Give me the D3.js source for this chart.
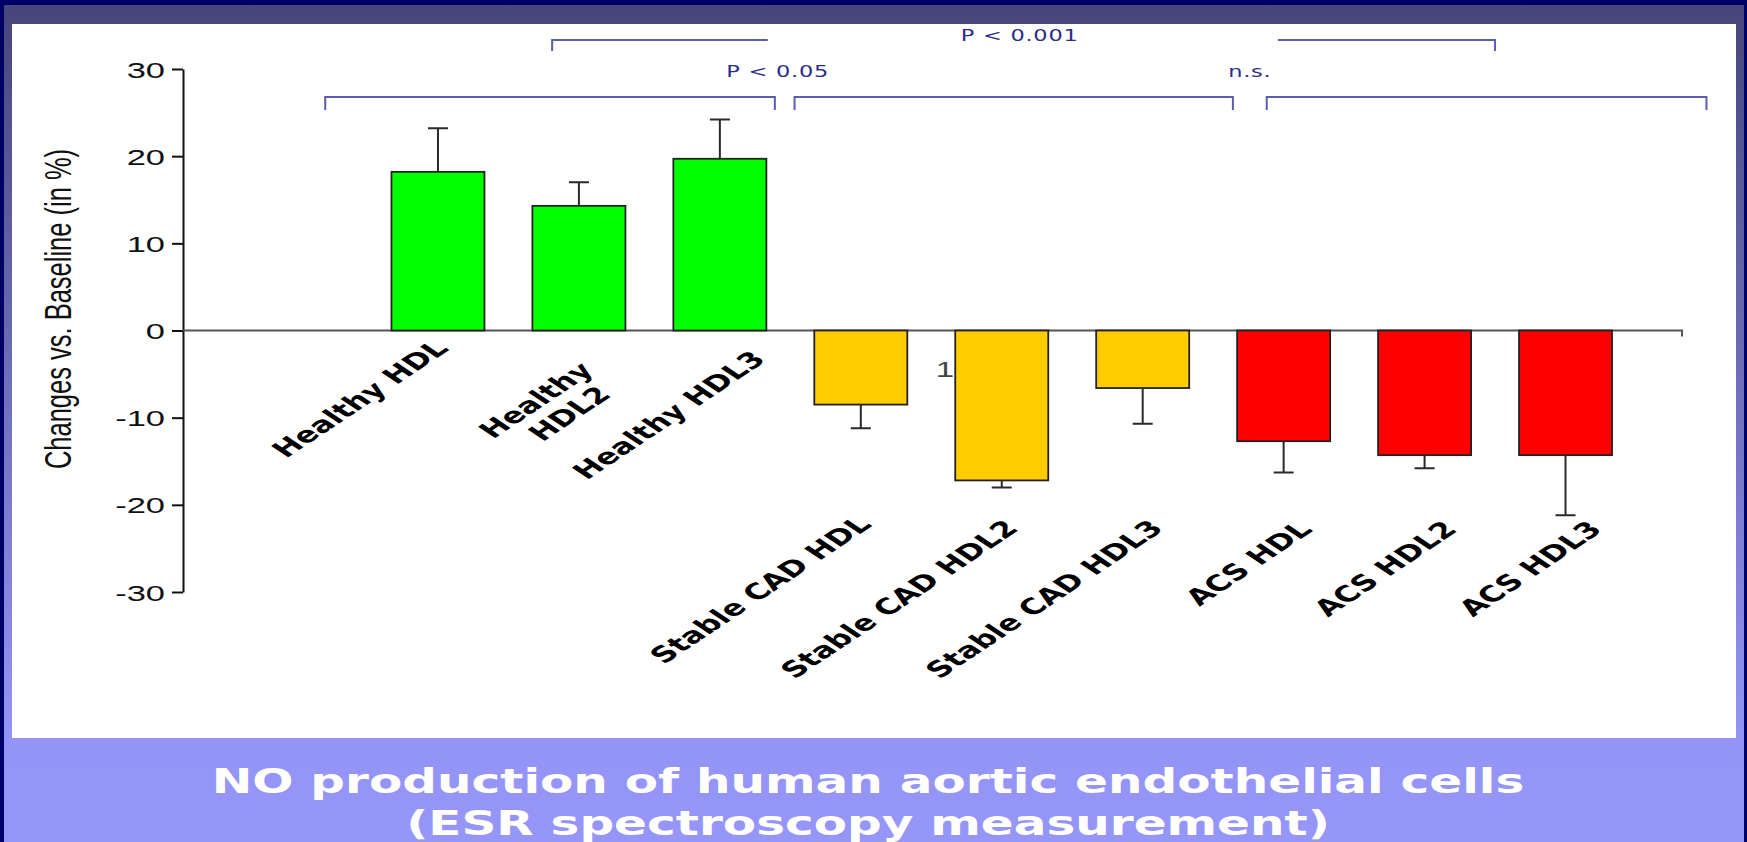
<!DOCTYPE html>
<html>
<head>
<meta charset="utf-8">
<script src="https://cdn.jsdelivr.net/npm/d3@7"></script>
<style>
  html, body { margin: 0; padding: 0; background: #000066; }
  svg { display: block; }
</style>
</head>
<body>
<svg id="chart" width="1747" height="842"></svg>
<script>
// ---- data ----
const categories = ["Healthy HDL", "Healthy HDL2", "Healthy HDL3",
  "Stable CAD HDL", "Stable CAD HDL2", "Stable CAD HDL3",
  "ACS HDL", "ACS HDL2", "ACS HDL3"];
const labelLines = [["Healthy HDL"], ["Healthy", "HDL2"], ["Healthy HDL3"],
  ["Stable CAD HDL"], ["Stable CAD HDL2"], ["Stable CAD HDL3"],
  ["ACS HDL"], ["ACS HDL2"], ["ACS HDL3"]];
const groups = ["healthy", "healthy", "healthy", "stable", "stable", "stable", "acs", "acs", "acs"];
const changes = [18.2, 14.3, 19.7, -8.5, -17.2, -6.6, -12.7, -14.3, -14.3];
const sem = [5.0, 2.7, 4.5, 2.7, 0.8, 4.1, 3.6, 1.5, 6.9];
const yTicks = [30, 20, 10, 0, -10, -20, -30];
const yTitle = "Changes vs. Baseline (in %)";
const sigLabels = ["P < 0.001", "P < 0.05", "n.s."];
const titleLines = ["NO production of human aortic endothelial cells", "(ESR spectroscopy measurement)"];

// ---- styling / layout ----
const groupColor = { healthy: "#00ff00", stable: "#ffcc00", acs: "#ff0000" };
const W = 1747, H = 842;
const SX = 1.5;                 // horizontal stretch applied to all lettering
const bracketColor = "#5c5cb0";
// label end-point nudges relative to bar centre / zero line
const labelNudge = [[12, 19], [16, 41], [47, 30], [12, 195], [18, 199], [22, 199], [30, 200], [34, 200], [38, 200]];

const svg = d3.select("#chart");

// background: navy frame, shaded band, white plotting panel
const defs = svg.append("defs");
const grad = defs.append("linearGradient").attr("id", "bg").attr("x1", 0).attr("y1", 0).attr("x2", 0).attr("y2", 1);
grad.append("stop").attr("offset", "0").attr("stop-color", "#46467a");
grad.append("stop").attr("offset", "0.87").attr("stop-color", "#9494f6");
grad.append("stop").attr("offset", "1").attr("stop-color", "#9696f9");
svg.append("rect").attr("width", W).attr("height", H).attr("fill", "#000066");
svg.append("rect").attr("x", 4).attr("y", 5).attr("width", W - 7).attr("height", H - 5).attr("fill", "url(#bg)");
svg.append("rect").attr("x", 12).attr("y", 24).attr("width", 1724).attr("height", 714).attr("fill", "#ffffff");

// scales
const y = d3.scaleLinear().domain([-30, 30]).range([592, 69]);
const x = d3.scaleBand().domain(categories).range([367.5, 1636]).paddingInner(0.34).paddingOuter(0.17);
const axisX = 183;

// y axis
const yAxis = svg.append("g").attr("transform", `translate(${axisX},0)`)
  .call(d3.axisLeft(y).tickValues(yTicks).tickSize(11).tickSizeOuter(0).tickFormat(d => String(d)));
yAxis.select(".domain").attr("stroke", "#111").attr("stroke-width", 2);
yAxis.selectAll(".tick line").attr("stroke", "#111").attr("stroke-width", 2);
yAxis.selectAll(".tick text")
  .attr("x", null).attr("dy", "0.35em")
  .attr("transform", `translate(-18,0) scale(${SX},1)`)
  .attr("font-family", "'Liberation Sans', Arial, sans-serif")
  .attr("font-size", 23).attr("fill", "#111").attr("text-anchor", "end");

// zero baseline with end tick
svg.append("path")
  .attr("d", `M${axisX},${y(0)}H1682v6`)
  .attr("fill", "none").attr("stroke", "#555").attr("stroke-width", 2);

// y axis title
svg.append("text")
  .attr("transform", `translate(71,309) scale(1.45,1) rotate(-90)`)
  .attr("text-anchor", "middle")
  .attr("font-family", "'Liberation Sans', Arial, sans-serif")
  .attr("font-size", 25.5).attr("fill", "#111")
  .text(yTitle);

// bars
const bars = svg.append("g");
bars.selectAll("rect").data(categories).join("rect")
  .attr("x", d => x(d))
  .attr("width", x.bandwidth())
  .attr("y", (d, i) => y(Math.max(0, changes[i])))
  .attr("height", (d, i) => Math.abs(y(changes[i]) - y(0)))
  .attr("fill", (d, i) => groupColor[groups[i]])
  .attr("stroke", "#222").attr("stroke-width", 1.8);

// one-sided error bars (away from zero)
const capHalf = 10;
const errs = svg.append("g").attr("stroke", "#2a2a2a").attr("stroke-width", 2).attr("fill", "none");
errs.selectAll("path").data(categories).join("path")
  .attr("d", (d, i) => {
    const cx = x(d) + x.bandwidth() / 2;
    const v = changes[i];
    const end = v + Math.sign(v) * sem[i];
    return `M${cx},${y(v)}V${y(end)}M${cx - capHalf},${y(end)}H${cx + capHalf}`;
  });

// category labels, rotated and stretched
const labels = svg.append("g")
  .attr("font-family", "'DejaVu Sans', Verdana, sans-serif")
  .attr("font-weight", "bold").attr("font-size", 22).attr("fill", "#000");
categories.forEach((c, i) => {
  const ax = x(c) + x.bandwidth() / 2 + labelNudge[i][0];
  const ay = y(0) + labelNudge[i][1];
  const t = labels.append("text")
    .attr("transform", `translate(${ax},${ay}) scale(${SX},1) rotate(-45)`)
    .attr("text-anchor", "end");
  labelLines[i].forEach((line, k) => {
    t.append("tspan").attr("x", 0).attr("dx", k ? "-0.4em" : 0)
      .attr("dy", k ? "1.15em" : 0).text(line);
  });
});

// stray numeral inside the plot
svg.append("text")
  .attr("transform", `translate(945,377) scale(${SX},1)`)
  .attr("text-anchor", "middle")
  .attr("font-family", "'Liberation Sans', Arial, sans-serif")
  .attr("font-size", 22).attr("fill", "#444").text("1");

// significance brackets
const step = x.step();
const at = (cat, frac) => x(cat) + frac * step;
const lowY = 97, lowDrop = 13, highY = 40, highDrop = 11;
const brk = svg.append("g").attr("fill", "none").attr("stroke", bracketColor).attr("stroke-width", 2);
// lower row: three group spans
[[at("Healthy HDL", -0.47), at("Healthy HDL3", 0.72)],
 [at("Stable CAD HDL", -0.14), at("Stable CAD HDL3", 0.97)],
 [at("ACS HDL", 0.21), at("ACS HDL3", 1.33)]].forEach(([a, b]) => {
  brk.append("path").attr("d", `M${a},${lowY + lowDrop}V${lowY}H${b}V${lowY + lowDrop}`);
});
// upper row: split bracket with label in the gap
const topL = at("Healthy HDL2", 0.14), topLE = at("Healthy HDL3", 0.67);
const topRS = at("ACS HDL", 0.29), topR = at("ACS HDL2", 0.83);
brk.append("path").attr("d", `M${topL},${highY + highDrop}V${highY}H${topLE}`);
brk.append("path").attr("d", `M${topRS},${highY}H${topR}V${highY + highDrop}`);

const sig = svg.append("g")
  .attr("font-family", "'DejaVu Sans', Verdana, sans-serif")
  .attr("font-size", 15).attr("fill", "#2c2c8c").attr("text-anchor", "middle");
const sigPos = [[(topL + topR) / 2 - 4, 41], [(at("Healthy HDL3", 0.72) + at("Stable CAD HDL", -0.14)) / 2 - 7, 77],
  [(at("Stable CAD HDL3", 0.97) + at("ACS HDL", 0.21)) / 2, 77]];
sigLabels.forEach((s, i) => {
  sig.append("text").attr("transform", `translate(${sigPos[i][0]},${sigPos[i][1]}) scale(${SX},1)`)
    .attr("letter-spacing", 0.5).text(s);
});

// caption
const cap = svg.append("g")
  .attr("font-family", "'DejaVu Sans', Verdana, sans-serif")
  .attr("font-weight", "bold").attr("font-size", 33).attr("fill", "#ffffff").attr("text-anchor", "middle");
titleLines.forEach((t, i) => {
  cap.append("text").attr("transform", `translate(868,${793 + i * 42}) scale(1.47,1)`).text(t);
});
</script>
</body>
</html>
